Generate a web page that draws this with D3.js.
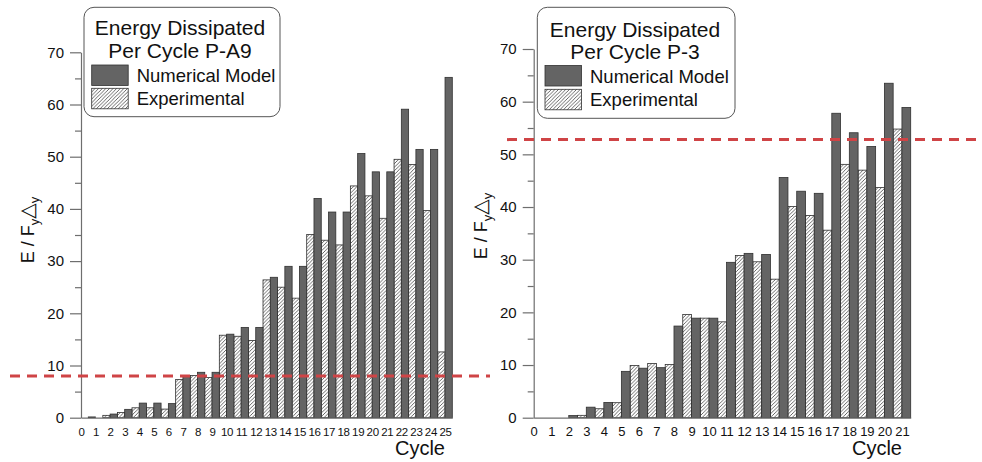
<!DOCTYPE html>
<html><head><meta charset="utf-8">
<script src="https://cdn.jsdelivr.net/npm/d3@7"></script>
<style>body{margin:0;background:#fff}</style>
</head><body><svg id="c" width="982" height="462" xmlns="http://www.w3.org/2000/svg"></svg>
<script>
// ---------- data ----------
const cyclesA9 = [0,1,2,3,4,5,6,7,8,9,10,11,12,13,14,15,16,17,18,19,20,21,22,23,24,25];
const numericalA9 = [0,0,0.7,1.6,2.8,2.8,2.7,8.05,8.7,8.7,16.0,17.3,17.3,26.9,29.0,29.0,42.0,39.4,39.4,50.6,47.1,47.1,59.1,51.4,51.4,65.2];
const experimentalA9 = [null,0.15,0.45,1.0,1.9,1.9,1.65,7.3,8.1,7.7,15.8,15.6,14.8,26.4,25.0,22.9,35.1,34.0,33.1,44.4,42.5,38.2,49.5,48.5,39.7,12.6];
const thresholdA9 = 8.0;

const cyclesP3 = [0,1,2,3,4,5,6,7,8,9,10,11,12,13,14,15,16,17,18,19,20,21];
const numericalP3 = [0,0,0.4,2.0,2.9,8.8,9.4,9.5,17.4,18.9,18.9,29.5,31.2,31.0,45.6,43.0,42.6,57.8,54.1,51.5,63.5,58.9];
const experimentalP3 = [null,0,0,0.45,1.7,2.85,9.9,10.3,10.1,19.6,18.9,18.2,30.8,29.6,26.3,40.1,38.4,35.6,48.1,47.0,43.7,54.8];
const thresholdP3 = 52.8;

const yMajorTicks = [0,10,20,30,40,50,60,70];
const yMinorTicks = [5,15,25,35,45,55,65];
const legendTitleA9 = ["Energy Dissipated", "Per Cycle P-A9"];
const legendTitleP3 = ["Energy Dissipated", "Per Cycle P-3"];
const seriesNames = ["Numerical Model", "Experimental"];
const xTitle = "Cycle";

// ---------- drawing ----------
const svg = d3.select("#c");
const FONT = "'Liberation Sans', Arial, sans-serif";
const DARK = "#646464", BAR_STROKE = "#303030", AXIS = "#6e6e6e", RED = "#cf4446";

const defs = svg.append("defs");
const pat = defs.append("pattern").attr("id","hatch").attr("patternUnits","userSpaceOnUse")
  .attr("width",3.6).attr("height",3.6);
pat.append("rect").attr("width",3.6).attr("height",3.6).attr("fill","#fff");
pat.append("path").attr("d","M-0.9,0.9 L0.9,-0.9 M0,3.6 L3.6,0 M2.7,4.5 L4.5,2.7")
  .attr("stroke","#4a4a4a").attr("stroke-width",0.85);

function panel(o) {
  const g = svg.append("g");
  const x = d3.scaleLinear().domain([0, o.xMax + 0.5]).range([o.x0, o.x1]);
  const y = d3.scaleLinear().domain([0, 70]).range([o.yBase, o.yTop]);
  const bw = x(0.5) - x(0);

  // experimental (hatched) bars, left of each cycle tick
  g.append("g").selectAll("rect")
    .data(o.cycles.map((c,i)=>({c, v:o.exp[i]})).filter(d=>d.v!==null))
    .join("rect")
    .attr("x", d=>x(d.c)-bw).attr("y", d=>y(d.v))
    .attr("width", bw).attr("height", d=>y(0)-y(d.v))
    .attr("fill","url(#hatch)").attr("stroke",BAR_STROKE).attr("stroke-width",0.8);

  // numerical (dark) bars, right of each cycle tick
  g.append("g").selectAll("rect")
    .data(o.cycles.map((c,i)=>({c, v:o.num[i]})))
    .join("rect")
    .attr("x", d=>x(d.c)).attr("y", d=>y(d.v))
    .attr("width", bw).attr("height", d=>y(0)-y(d.v))
    .attr("fill",DARK).attr("stroke",BAR_STROKE).attr("stroke-width",0.8);

  // y axis
  const ya = g.append("g").attr("transform",`translate(${o.x0},0)`)
    .call(d3.axisLeft(y).tickValues(yMajorTicks).tickSize(11).tickSizeOuter(0).tickPadding(6));
  ya.select(".domain").attr("stroke",AXIS).attr("stroke-width",1.2);
  ya.selectAll(".tick line").attr("stroke",AXIS).attr("stroke-width",1.2);
  ya.selectAll(".tick text").attr("font-family",FONT).attr("font-size",o.yFont).attr("fill","#111");
  const ym = g.append("g").attr("transform",`translate(${o.x0},0)`)
    .call(d3.axisLeft(y).tickValues(yMinorTicks).tickSize(6).tickSizeOuter(0).tickFormat(""));
  ym.select(".domain").remove();
  ym.selectAll(".tick line").attr("stroke",AXIS).attr("stroke-width",1.2);

  // x axis
  const xa = g.append("g").attr("transform",`translate(0,${o.yBase})`)
    .call(d3.axisBottom(x).tickValues(o.cycles).tickSize(0).tickSizeOuter(0).tickPadding(o.xPad).tickFormat(d3.format("d")));
  xa.select(".domain").attr("stroke",AXIS).attr("stroke-width",1.2);
  xa.selectAll(".tick text").attr("font-family",FONT).attr("font-size",o.xFont).attr("fill","#111")
    .attr("letter-spacing", o.xSpacing);

  // axis titles
  g.append("text").attr("x", o.cycleX).attr("y", o.cycleY).attr("text-anchor","end")
    .attr("font-family",FONT).attr("font-size",20).attr("fill","#111").text(xTitle);
  const yt = g.append("text").attr("transform",`translate(${o.yTitleX},${o.yTitleY}) rotate(-90)`)
    .attr("text-anchor","middle").attr("font-family",FONT).attr("font-size",18).attr("fill","#111");
  yt.append("tspan").text("E / F");
  yt.append("tspan").attr("font-size",13).attr("dy",5).text("y");
  yt.append("tspan").attr("font-family","'DejaVu Sans', sans-serif").attr("font-size",20).attr("dy",-5).text("\u25B3");
  yt.append("tspan").attr("font-size",13).attr("dy",5).text("y");

  // threshold dashed line
  g.append("line").attr("x1",o.dashX1).attr("x2",o.dashX2)
    .attr("y1",y(o.threshold)).attr("y2",y(o.threshold))
    .attr("stroke",RED).attr("stroke-width",3).attr("stroke-dasharray","10,7");

  // legend
  const L = o.legend;
  const lg = g.append("g");
  lg.append("rect").attr("x",L.x).attr("y",L.y).attr("width",L.w).attr("height",L.h)
    .attr("rx",10).attr("fill","#fff").attr("stroke","#555").attr("stroke-width",1);
  o.title.forEach((t,i)=>{
    lg.append("text").attr("x",L.cx).attr("y",L.t1 + i*L.lineGap).attr("text-anchor","middle")
      .attr("font-family",FONT).attr("font-size",21).attr("fill","#111").text(t);
  });
  const fills = [DARK, "url(#hatch)"];
  seriesNames.forEach((s,i)=>{
    lg.append("rect").attr("x",L.sx).attr("y",L.sy + i*L.rowGap).attr("width",36.5).attr("height",20.5)
      .attr("fill",fills[i]).attr("stroke",BAR_STROKE).attr("stroke-width",0.8);
    lg.append("text").attr("x",L.tx).attr("y",L.sy + 17 + i*L.rowGap)
      .attr("font-family",FONT).attr("font-size",18.5).attr("fill","#111").text(s);
  });
}

panel({
  cycles: cyclesA9, num: numericalA9, exp: experimentalA9, threshold: thresholdA9, xMax: 25,
  x0: 81, x1: 452.3, yBase: 417.7, yTop: 52.3, yFont: 15, xFont: 11.5, xSpacing: -0.3, xPad: 10,
  cycleX: 445, cycleY: 455, yTitleX: 34, yTitleY: 230,
  dashX1: 10, dashX2: 490, title: legendTitleA9,
  legend: {x: 84, y: 7.3, w: 196, h: 109.4, cx: 180, t1: 35, lineGap: 22.5, sx: 91.7, sy: 65, rowGap: 23.3, tx: 136.7}
});
panel({
  cycles: cyclesP3, num: numericalP3, exp: experimentalP3, threshold: thresholdP3, xMax: 21,
  x0: 533.7, x1: 910.7, yBase: 417.7, yTop: 49, yFont: 15, xFont: 13, xSpacing: 0, xPad: 9,
  cycleX: 902, cycleY: 455, yTitleX: 487, yTitleY: 226,
  dashX1: 507, dashX2: 982, title: legendTitleP3,
  legend: {x: 537.3, y: 7.3, w: 197.7, h: 111, cx: 635, t1: 36.5, lineGap: 22.5, sx: 545, sy: 65.5, rowGap: 23.8, tx: 590}
});
</script>
</body></html>
